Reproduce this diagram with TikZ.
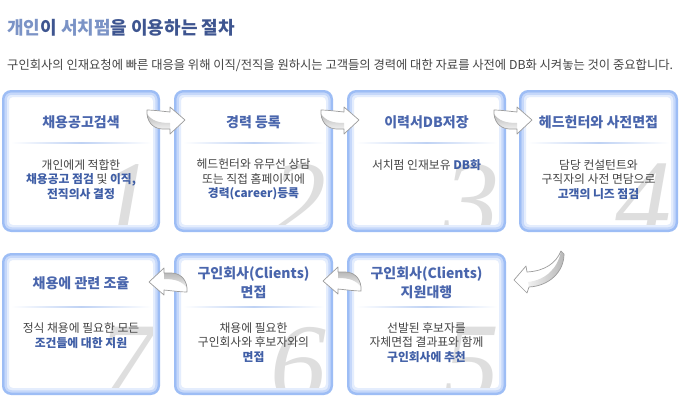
\documentclass[tikz,border=0pt]{standalone}
\usepackage{fontspec}
\setmainfont{Noto Sans CJK KR}
\newfontfamily\digitfont{Liberation Serif}
\definecolor{ttl}{HTML}{4A66AD}
\definecolor{hlc}{HTML}{3F5EA6}
\definecolor{bodyc}{HTML}{444444}
\definecolor{bordc}{HTML}{9DBDF5}
\definecolor{glowa}{HTML}{C6D8FA}
\definecolor{glowb}{HTML}{E4EDFD}
\definecolor{sepc}{HTML}{BFD2F4}
\definecolor{digc}{HTML}{DEDEDE}
\definecolor{hdlight}{HTML}{7B93C6}
\definecolor{hddark}{HTML}{3E5590}
\definecolor{arrline}{HTML}{9C9C9C}
\definecolor{arrshade}{HTML}{B8B8B8}
\newcommand\hl[1]{{\bfseries\color{hlc}#1}}
\newcommand\glowbox[4]{%
  \fill[white, rounded corners=8pt] (#1,#2) rectangle (#3,#4);
}
\newcommand\glowframe[4]{%
  \draw[glowb, line width=3pt, rounded corners=5pt] (#1+5.5,#2+5.5) rectangle (#3-5.5,#4-5.5);
  \draw[glowa, line width=2.5pt, rounded corners=6pt] (#1+3.5,#2+3.5) rectangle (#3-3.5,#4-3.5);
  \draw[bordc, line width=2.5pt, rounded corners=8pt] (#1+1.25,#2+1.25) rectangle (#3-1.25,#4-1.25);
}
\newcommand\sepline[3]{%
  \shade[left color=white, right color=white, middle color=sepc] (#1+9,#3-0.8) rectangle (#2-9,#3+0.8);
}
\newcommand\bigdigit[6]{% name, x1,y1,x2,y2, digit
  \begin{scope}
    \clip[rounded corners=7pt] (#2+2.5,#3+2.5) rectangle (#4-2.5,#5-2.5);
    \node[digitstyle] (#1) at (#4-6,#3+74) {#6};
  \end{scope}
}
\tikzset{
  x=1pt, y=-1pt,
  digitstyle/.style={anchor=north east, inner sep=0pt, text=digc,
    font=\fontsize{112}{112}\selectfont\digitfont\itshape},
  ttlstyle/.style={inner sep=0pt, text=ttl, align=center,
    font=\fontsize{14}{19}\selectfont\bfseries},
  bodystyle/.style={inner sep=0pt, text=bodyc, align=center,
    font=\fontsize{11.8}{14.5}\selectfont},
  rarrow/.pic={
    \fill[white] (0,0) -- (-15,-13) -- (-15,-8) .. controls (-25,-9) and (-32,-10) .. (-38,-10)
      -- (-38,-6) .. controls (-37,4) and (-30,9) .. (-22,9) -- (-15,9) -- (-15,14) -- cycle;
    \shade[top color=arrshade, bottom color=white!80!arrshade]
      (-38,-6) .. controls (-37,4) and (-30,9) .. (-22,9) -- (-15,9) -- (-15,3)
      .. controls (-26,3) and (-33,1) .. (-38,-6) -- cycle;
    \draw[arrline, line width=0.7pt, line join=round] (0,0) -- (-15,-13) -- (-15,-8) .. controls (-25,-9) and (-32,-10) .. (-38,-10)
      -- (-38,-6) .. controls (-37,4) and (-30,9) .. (-22,9) -- (-15,9) -- (-15,14) -- cycle;
  }
}
\begin{document}
\begin{tikzpicture}
\useasboundingbox (0,0) rectangle (680,400);
\fill[white] (0,0) rectangle (680,400);

% heading
\node[anchor=west, inner sep=0pt, font=\fontsize{18}{20}\selectfont\bfseries] (head) at (7,28)
  {\color{hdlight}개인\color{hddark}이 \color{hdlight}서치펌\color{hddark}을 이용하는 절차};
\node[anchor=west, inner sep=0pt, text=bodyc, font=\fontsize{12.3}{14}\selectfont] (sub) at (7,65)
  {구인회사의 인재요청에 빠른 대응을 위해 이직/전직을 원하시는 고객들의 경력에 대한 자료를 사전에 DB화 시켜놓는 것이 중요합니다.};

% boxes row 1
\glowbox{2}{90}{160}{232}
\bigdigit{d1}{2}{90}{160}{232}{1}
\glowframe{2}{90}{160}{232}
\glowbox{174}{90}{333}{232}
\bigdigit{d2}{174}{90}{333}{232}{2}
\glowframe{174}{90}{333}{232}
\glowbox{347}{90}{506}{232}
\bigdigit{d3}{347}{90}{506}{232}{3}
\glowframe{347}{90}{506}{232}
\glowbox{519}{90}{678}{232}
\bigdigit{d4}{519}{90}{678}{232}{4}
\glowframe{519}{90}{678}{232}
% boxes row 2
\glowbox{2}{253}{160}{395}
\bigdigit{d7}{2}{253}{160}{395}{7}
\glowframe{2}{253}{160}{395}
\glowbox{174}{253}{333}{395}
\bigdigit{d6}{174}{253}{333}{395}{6}
\glowframe{174}{253}{333}{395}
\glowbox{347}{253}{506}{395}
\bigdigit{d5}{347}{253}{506}{395}{5}
\glowframe{347}{253}{506}{395}

% separators
\sepline{2}{160}{143}
\sepline{174}{333}{143}
\sepline{347}{506}{143}
\sepline{519}{678}{143}
\sepline{2}{160}{307}
\sepline{174}{333}{307}
\sepline{347}{506}{307}

% titles
\node[ttlstyle] (t1) at (81,122) {채용공고검색};
\node[ttlstyle] (t2) at (253.5,122) {경력 등록};
\node[ttlstyle] (t3) at (426.5,122) {이력서DB저장};
\node[ttlstyle] (t4) at (598.5,122) {헤드헌터와 사전면접};
\node[ttlstyle] (t7) at (81,283) {채용에 관련 조율};
\node[ttlstyle] (t6) at (253.5,282.5) {구인회사(Clients)\\면접};
\node[ttlstyle] (t5) at (426.5,282.5) {구인회사(Clients)\\지원대행};

% bodies
\node[bodystyle] (b1) at (81,179.5) {개인에게 적합한\\\hl{채용공고 점검} 및 \hl{이직,}\\\hl{전직의사 결정}};
\node[bodystyle] (b2) at (253.5,179.5) {헤드헌터와 유무선 상담\\또는 직접 홈페이지에\\\hl{경력(career)등록}};
\node[bodystyle] (b3) at (426.5,165) {서치펌 인재보유 \hl{DB화}};
\node[bodystyle] (b4) at (598.5,179.5) {담당 컨설턴트와\\구직자의 사전 면담으로\\\hl{고객의 니즈 점검}};
\node[bodystyle] (b7) at (81,335.5) {정식 채용에 필요한 모든\\\hl{조건들에 대한 지원}};
\node[bodystyle] (b6) at (253.5,342.5) {채용에 필요한\\구인회사와 후보자와의\\\hl{면접}};
\node[bodystyle] (b5) at (426.5,342.5) {선발된 후보자를\\자체면접 결과표와 함께\\\hl{구인회사에 추천}};

% arrows
\coordinate (a12) at (185,120);
\coordinate (a23) at (359,120);
\coordinate (a34) at (532,120);
\coordinate (a56) at (323,281);
\coordinate (a67) at (149,282);
\pic at (a12) {rarrow};
\pic at (a23) {rarrow};
\pic at (a34) {rarrow};
\pic[rotate=180] at (a56) {rarrow};
\pic[rotate=180] at (a67) {rarrow};

% down arrow 4 -> 5
\coordinate (a45) at (514,280);
\fill[white] (a45) -- (526,266) -- (527,272) .. controls (545,271) and (556,263) .. (561,251)
  -- (564,254) .. controls (564,272) and (549,286) .. (529,287) -- (527,293) -- cycle;
\shade[left color=white!80!arrshade, right color=arrshade]
  (561,251) -- (564,254) .. controls (564,272) and (549,286) .. (529,287) -- (528,282)
  .. controls (546,280) and (558,268) .. (561,251) -- cycle;
\draw[arrline, line width=0.7pt, line join=round] (a45) -- (526,266) -- (527,272) .. controls (545,271) and (556,263) .. (561,251)
  -- (564,254) .. controls (564,272) and (549,286) .. (529,287) -- (527,293) -- cycle;
\end{tikzpicture}
\end{document}
